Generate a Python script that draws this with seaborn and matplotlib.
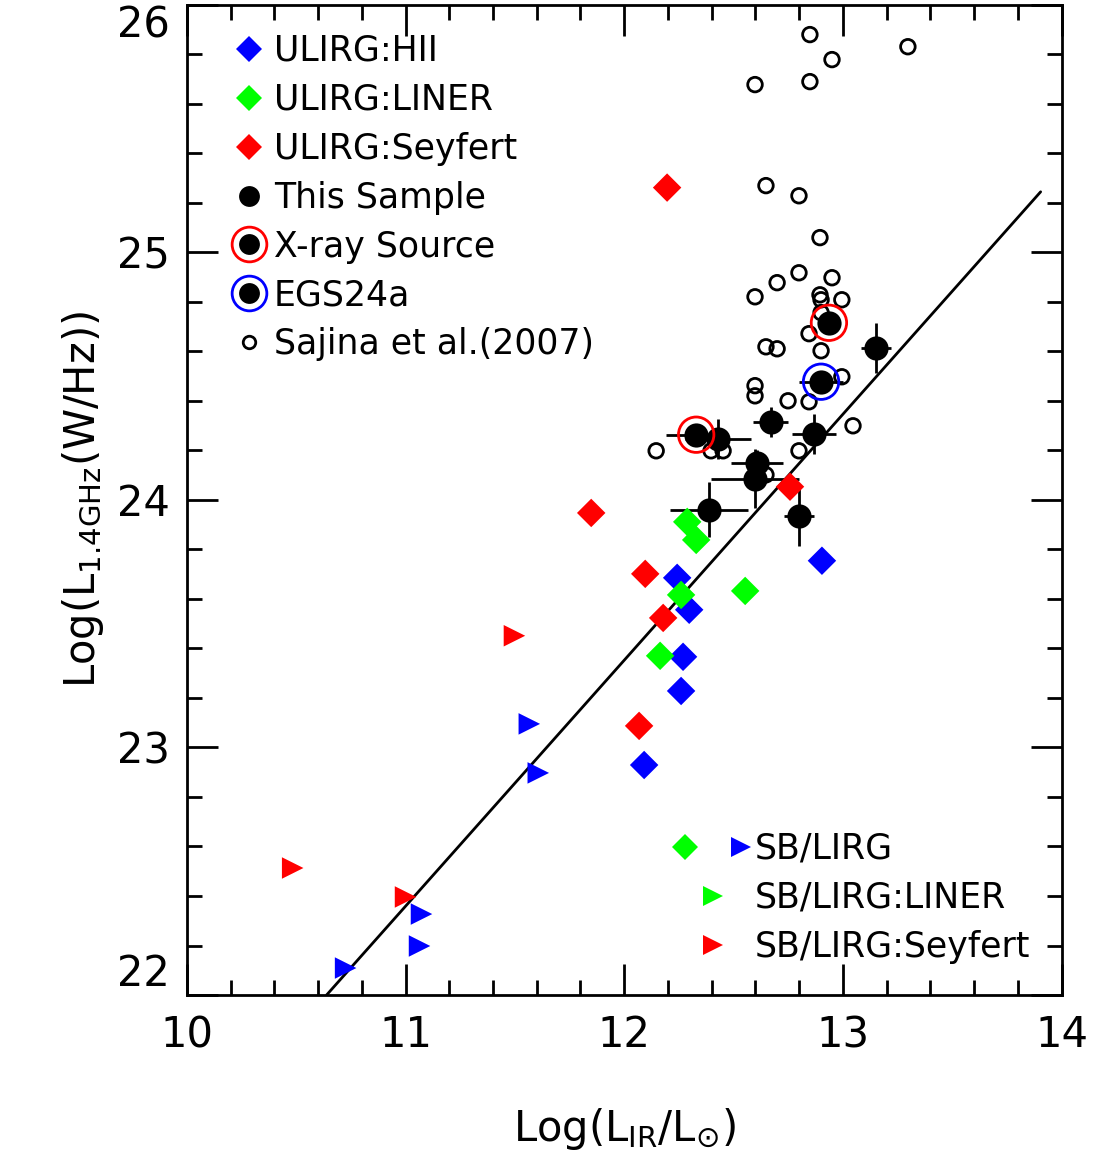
import numpy as np
import pandas as pd
import matplotlib
matplotlib.use("Agg")
import matplotlib.pyplot as plt
import seaborn as sns
from matplotlib.lines import Line2D
from matplotlib.legend_handler import HandlerTuple
from matplotlib.ticker import MultipleLocator, FixedLocator

sns.set_style("white")
plt.rcParams['font.family'] = ['DejaVu Sans']
plt.rcParams['text.color'] = 'black'
plt.rcParams['axes.labelcolor'] = 'black'
plt.rcParams['xtick.color'] = 'black'
plt.rcParams['ytick.color'] = 'black'

# Sajina et al. (2007)
saj_x = [12.849, 13.297, 12.950, 12.598, 12.849, 12.648, 12.799, 12.895, 12.799, 12.699,
         12.950, 12.598, 12.895, 12.900, 12.995, 12.900, 12.845, 12.648, 12.699, 12.900,
         12.995, 12.598, 12.598, 12.749, 12.845, 13.046, 12.146, 12.397, 12.452, 12.799, 12.648]
saj_y = [25.879, 25.830, 25.778, 25.677, 25.689, 25.269, 25.228, 25.059, 24.917, 24.877,
         24.897, 24.820, 24.828, 24.808, 24.808, 24.756, 24.671, 24.618, 24.610, 24.602,
         24.497, 24.461, 24.420, 24.400, 24.396, 24.299, 24.198, 24.198, 24.198, 24.198, 24.101]

# This sample
ts_x = [12.936, 13.151, 12.900, 12.671, 12.329, 12.429, 12.868, 12.607, 12.598, 12.388, 12.799]
ts_y = [24.715, 24.614, 24.477, 24.315, 24.263, 24.246, 24.267, 24.150, 24.085, 23.960, 23.935]
ts_xerr = [0.04, 0.07, 0.10, 0.08, 0.14, 0.15, 0.10, 0.12, 0.20, 0.18, 0.07]
ts_yerr = [0.03, 0.10, 0.03, 0.06, 0.03, 0.08, 0.08, 0.05, 0.12, 0.11, 0.12]
xray_idx = [0, 4]
egs_idx = [2]

uh_x = [12.242, 12.297, 12.269, 12.260, 12.091, 12.904]
uh_y = [23.685, 23.556, 23.366, 23.228, 22.929, 23.754]
ul_x = [12.288, 12.329, 12.260, 12.164, 12.553]
ul_y = [23.911, 23.838, 23.616, 23.370, 23.632]
us_x = [12.196, 11.849, 12.096, 12.178, 12.068, 12.758]
us_y = [25.261, 23.947, 23.701, 23.523, 23.087, 24.053]

sb_x = [10.726, 11.073, 11.064, 11.566, 11.607]
sb_y = [22.109, 22.327, 22.198, 23.095, 22.897]
sbs_x = [10.484, 11.000, 11.498]
sbs_y = [22.513, 22.396, 23.451]

line_x = [10.639, 13.904]
line_y = [22.0, 25.244]

yticks = [22, 23, 24, 25, 26]

fig = plt.figure(figsize=(10.99, 11.57), dpi=100)
ax = fig.add_axes([0.170, 0.140, 0.796, 0.856])

sns.scatterplot(x=saj_x, y=saj_y, ax=ax, marker='o', s=110, facecolor='none',
                edgecolor='black', linewidth=2, zorder=3)
ax.plot(line_x, line_y, color='black', lw=2, zorder=2)
ax.errorbar(ts_x, ts_y, xerr=ts_xerr, yerr=ts_yerr, fmt='none', ecolor='black', elinewidth=2, zorder=4)
sns.scatterplot(x=ts_x, y=ts_y, ax=ax, marker='o', s=260, color='black', edgecolor='black', zorder=5)
ax.scatter([ts_x[i] for i in xray_idx], [ts_y[i] for i in xray_idx], s=650, facecolor='none',
           edgecolor='red', linewidth=2, zorder=6)
ax.scatter([ts_x[i] for i in egs_idx], [ts_y[i] for i in egs_idx], s=650, facecolor='none',
           edgecolor='blue', linewidth=2, zorder=6)

for xs, ys, c in [(uh_x, uh_y, 'blue'), (ul_x, ul_y, '#00ff00'), (us_x, us_y, 'red')]:
    sns.scatterplot(x=xs, y=ys, ax=ax, marker='D', s=210, color=c, edgecolor='none', zorder=5)
for xs, ys, c in [(sb_x, sb_y, 'blue'), (sbs_x, sbs_y, 'red')]:
    sns.scatterplot(x=xs, y=ys, ax=ax, marker='>', s=240, color=c, edgecolor='none', zorder=5)

ax.set_xlim(10, 14)
ax.set_ylim(22, 26)
ax.xaxis.set_major_locator(MultipleLocator(1))
ax.xaxis.set_minor_locator(MultipleLocator(0.2))
ax.yaxis.set_major_locator(FixedLocator(yticks))
ax.set_yticklabels([str(t) for t in yticks])
ax.yaxis.set_minor_locator(MultipleLocator(0.2))
ax.tick_params(which='both', direction='in', top=True, right=True, bottom=True, left=True,
               width=2, labelsize=30)
ax.tick_params(axis='x', pad=14)
ax.tick_params(axis='y', pad=12)
ax.tick_params(which='major', length=22)
ax.tick_params(which='minor', length=11)
for sp in ax.spines.values():
    sp.set_linewidth(2)
    sp.set_color('black')
ax.set_xlabel(r'Log(L$_{\rm IR}$/L$_{\odot}$)', fontsize=30, labelpad=36)
ax.set_ylabel(r'Log(L$_{\rm 1.4GHz}$(W/Hz))', fontsize=30, labelpad=8)

def mk(m, c, s=15, fc=None, mew=0):
    return Line2D([], [], ls='none', marker=m, color=c, markersize=s,
                  markerfacecolor=c if fc is None else fc, markeredgewidth=mew)

dot = mk('o', 'black', 15)
h1 = [mk('D', 'blue', 13), mk('D', '#00ff00', 13), mk('D', 'red', 13), dot,
      (mk('o', 'red', 25, 'none', 2), dot), (mk('o', 'blue', 25, 'none', 2), dot),
      mk('o', 'black', 9, 'none', 2)]
l1 = ['ULIRG:HII', 'ULIRG:LINER', 'ULIRG:Seyfert', 'This Sample', 'X-ray Source', 'EGS24a',
      'Sajina et al.(2007)']
leg1 = ax.legend(h1, l1, loc='upper left', bbox_to_anchor=(0.02, 0.995), frameon=False, fontsize=25,
                 handler_map={tuple: HandlerTuple(ndivide=1)}, handletextpad=0.1,
                 handlelength=1.2, labelspacing=0.43, borderaxespad=0.3)
ax.add_artist(leg1)
h2 = [(mk('D', '#00ff00', 13), mk('>', 'blue', 15)), mk('>', '#00ff00', 15), mk('>', 'red', 15)]
l2 = ['SB/LIRG', 'SB/LIRG:LINER', 'SB/LIRG:Seyfert']
ax.legend(h2, l2, loc='lower right', bbox_to_anchor=(1.0, 0.0), frameon=False, fontsize=25,
          handler_map={tuple: HandlerTuple(ndivide=None, pad=1.0)}, handletextpad=0.1,
          handlelength=2.2, labelspacing=0.43, markerfirst=True)

fig.canvas.draw()
ylabs = ax.yaxis.get_majorticklabels()
ylabs[0].set_va('bottom')
ylabs[-1].set_va('top')

fig.savefig('out.png', dpi=100)
